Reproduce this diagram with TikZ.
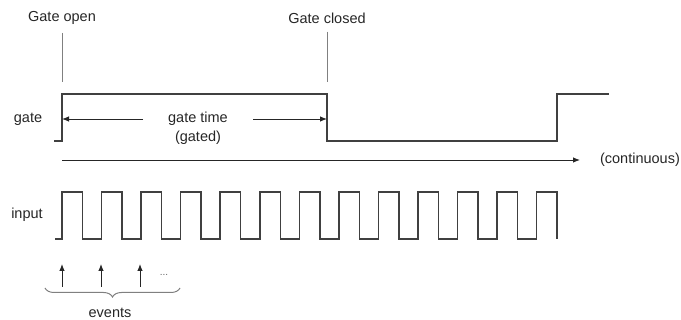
\documentclass[tikz,border=0pt]{standalone}
\usepackage{fontspec}
\setmainfont{Liberation Sans}
\usetikzlibrary{arrows.meta, positioning, decorations.pathreplacing}
\tikzstyle{signal} = [line width=1.5pt, draw=black!75, line join=miter]
\tikzstyle{marker} = [line width=1pt, draw=black!50]
\tikzstyle{arrow} = [line width=0.9pt, draw=black!85, -{Latex[length=7pt, width=5.5pt]}]
\tikzstyle{txt} = [font=\fontsize{14.5}{19}\selectfont, text=black!85, inner sep=0pt]

\begin{document}
\begin{tikzpicture}[x=1pt, y=-1pt]
\useasboundingbox (0,0) rectangle (681,320);

\node (open) [txt] at (62,18) {Gate open};
\node (closed) [txt] at (327,18) {Gate closed};
\node (gate) [txt] at (28,119) {gate};
\node (input) [txt] at (27,215) {input};
\node (time) [txt, align=center] at (198,128) {gate time\\(gated)};
\node (cont) [txt] at (640,160) {(continuous)};
\node (dots) [txt, font=\fontsize{10}{10}\selectfont, text=black!60] at (164,275) {...};
\node (events) [txt] at (110,313) {events};

\coordinate (m1) at (62,82);
\coordinate (m2) at (327,82);
\coordinate (t0) at (62,119);
\coordinate (t1) at (327,119);
\coordinate (t2) at (143,119);
\coordinate (t3) at (253,119);
\coordinate (c0) at (62,160);
\coordinate (c1) at (580,160);
\coordinate (b0) at (45,288);
\coordinate (b1) at (180,288);

% gate markers
\draw [marker, shorten <=8pt] (open.south) -- (m1);
\draw [marker, shorten <=8pt] (closed.south) -- (m2);

% gate signal
\draw [signal] (54,141) -- (62,141) -- (62,94) -- (327,94) -- (327,141) -- (557,141) -- (557,94) -- (609,94);

% gate time
\draw [arrow] (t2) -- (t0);
\draw [arrow] (t3) -- (t1);

% continuous time axis
\draw [arrow] (c0) -- (c1);

% input pulses
\draw [signal] (55,239) \foreach \i in {0,...,12} { -- ({62+39.55*\i},239) -- ({62+39.55*\i},192) -- ({82.5+39.55*\i},192) -- ({82.5+39.55*\i},239) };

% events
\foreach \x [count=\k] in {62,101,140} {
  \coordinate (e\k) at (\x,287);
  \draw [arrow] (e\k) -- ++(0,-23);
}
\draw [marker, decorate, decoration={brace, mirror, amplitude=9pt}] (b0) -- (b1);

\end{tikzpicture}
\end{document}
